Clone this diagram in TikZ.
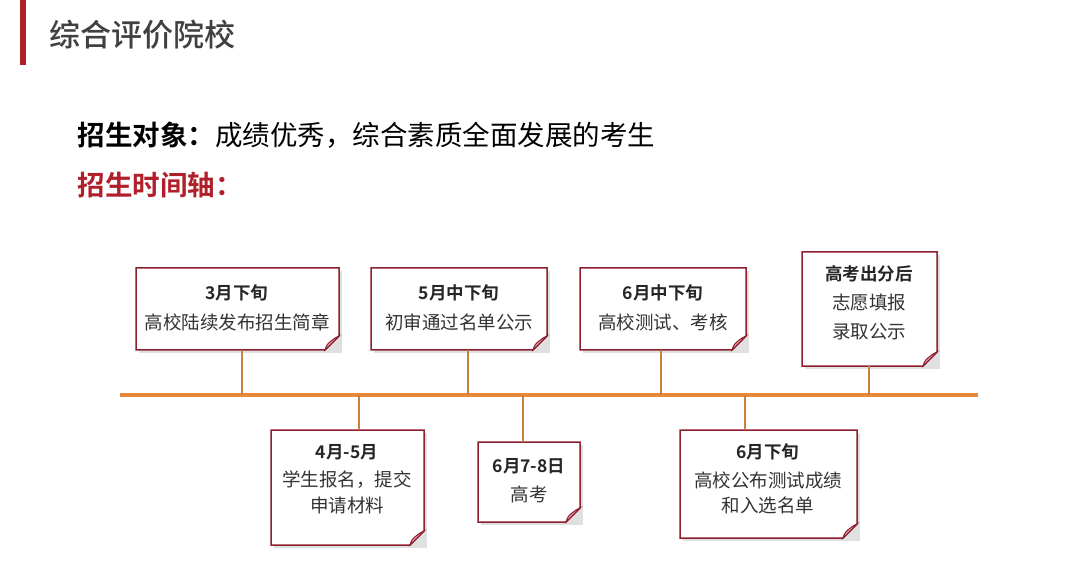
\documentclass[tikz,border=0pt]{standalone}
\usepackage{fontspec}
\setmainfont{Noto Sans CJK SC}
\newfontfamily\cjkb{Noto Sans CJK SC Bold}
\newfontfamily\cjkm{Noto Sans CJK SC Medium}
\definecolor{bred}{HTML}{8E1F2E}
\definecolor{tline}{HTML}{E8893A}
\definecolor{cline}{HTML}{C8803E}
\definecolor{fold}{HTML}{E8A0B0}
\definecolor{hred}{HTML}{B0202A}
\begin{document}
\begin{tikzpicture}[x=1pt,y=-1pt,
  tx/.style={font=\fontsize{18.5}{20}\selectfont, text=black!80},
  tb/.style={font=\fontsize{17.5}{20}\selectfont\cjkb, text=black!85},
  conn/.style={cline, line width=1.5pt}]
\useasboundingbox (0,0) rectangle (1080,580);
\fill[hred] (20,0) rectangle (26,65);
\node[anchor=west, font=\fontsize{31}{34}\selectfont\cjkm, text=black!75] (title) at (46,35) {综合评价院校};
\node[anchor=west, font=\fontsize{27.5}{30}\selectfont] (obj) at (74,135) {{\cjkb 招生对象：}成绩优秀，综合素质全面发展的考生};
\node[anchor=west, font=\fontsize{27.5}{30}\selectfont\cjkb, text=hred] (axis) at (74,185) {招生时间轴：};
\draw[tline, line width=4pt] (120,395) coordinate (L) -- (978,395) coordinate (R);
\newcommand\mybox[5]{%
  \fill[black!12] (#1+3,#2+3) rectangle (#3+3,#4+3);
  \fill[white] (#1,#2) -- (#3,#2) -- (#3,#4-14) -- (#3-14,#4) -- (#1,#4) -- cycle;
  \draw[bred, line width=1.5pt] (#1,#2) -- (#3,#2) -- (#3,#4-14) -- (#3-14,#4) -- (#1,#4) -- cycle;
  \fill[fold, draw=bred, line width=1pt] (#3,#4-14) -- (#3-14,#4) .. controls (#3-12,#4-6) .. (#3-4,#4-12) -- cycle;
  \coordinate (#5) at ({(#1+#3)/2},#2);
}
\mybox{136}{268}{339}{350}{b1}
\mybox{371}{268}{547}{350}{b2}
\mybox{580}{268}{746}{350}{b3}
\mybox{802}{252}{937}{366}{b4}
\mybox{271}{430}{424}{545}{b5}
\mybox{478}{442}{580}{522}{b6}
\mybox{680}{430}{857}{538}{b7}
\coordinate (c1) at (242,350); \coordinate (c2) at (468,350);
\coordinate (c3) at (661,350); \coordinate (c4) at (869,366);
\coordinate (c5) at (359,430); \coordinate (c6) at (523,442);
\coordinate (c7) at (745,430);
\foreach \c/\x in {c1/242,c2/468,c3/661,c4/869,c5/359,c6/523,c7/745}
  \draw[conn] (\c) -- (\x,395);
\node[tb] (t1a) at (237,293) {3月下旬};
\node[tx] (t1b) at (237,322) {高校陆续发布招生简章};
\node[tb] (t2a) at (459,293) {5月中下旬};
\node[tx] (t2b) at (459,322) {初审通过名单公示};
\node[tb] (t3a) at (663,293) {6月中下旬};
\node[tx] (t3b) at (663,322) {高校测试、考核};
\node[tb] (t4a) at (869,274) {高考出分后};
\node[tx] (t4b) at (869,303) {志愿填报};
\node[tx] (t4c) at (869,332) {录取公示};
\node[tb] (t5a) at (347,452) {4月-5月};
\node[tx] (t5b) at (347,480) {学生报名，提交};
\node[tx] (t5c) at (347,505) {申请材料};
\node[tb] (t6a) at (529,466) {6月7-8日};
\node[tx] (t6b) at (529,494) {高考};
\node[tb] (t7a) at (768,452) {6月下旬};
\node[tx] (t7b) at (768,480) {高校公布测试成绩};
\node[tx] (t7c) at (768,505) {和入选名单};
\end{tikzpicture}
\end{document}
